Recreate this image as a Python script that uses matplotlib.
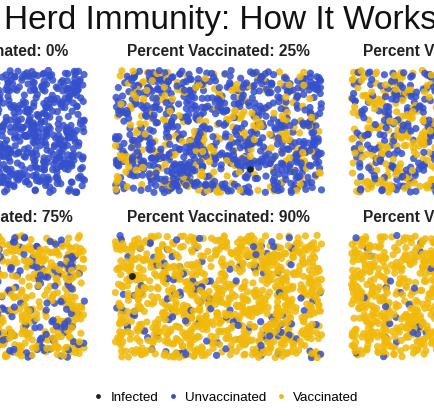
import numpy as np
import matplotlib.pyplot as plt
from matplotlib.lines import Line2D

# Facet values
percent_vaccinated = [0, 25, 50, 75, 90, 95]
n_people = 1000
n_infected = [1, 1, 1, 1, 1, 1]

# Legend
status_labels = ['Infected', 'Unvaccinated', 'Vaccinated']
status_colors = ['#222222', '#3550cc', '#f0b90b']

plt.rcParams['font.family'] = ['Liberation Sans', 'DejaVu Sans']

W, H = 434, 420
fig = plt.figure(figsize=(W / 100, H / 100), dpi=100)

# Panel layout in pixels (the picture is a crop of a wider figure)
col_left = [-125, 112, 348]
panel_w = 213
row_top = [67, 232]
panel_h = 129

# Individual positions in the simulation are random scatter: they cannot be
# read one by one, so a fixed seed stands in for them
rng = np.random.default_rng(7)

for k, pct in enumerate(percent_vaccinated):
    r, c = divmod(k, 3)
    x0, y0 = col_left[c], row_top[r]
    ax = fig.add_axes([x0 / W, 1 - (y0 + panel_h) / H, panel_w / W, panel_h / H])

    xs = rng.random(n_people)
    ys = rng.random(n_people)
    vacc = rng.random(n_people) < pct / 100
    colors = np.where(vacc, status_colors[2], status_colors[1])
    ax.scatter(xs, ys, s=27, c=colors, alpha=0.85, linewidths=0)

    inf = rng.choice(np.where(~vacc)[0], n_infected[k], replace=False)
    ax.scatter(xs[inf], ys[inf], s=22, c=status_colors[0], linewidths=0)

    ax.set_xlim(-0.016, 1.016)
    ax.set_ylim(-0.027, 1.027)
    ax.axis('off')

    fig.text((x0 + panel_w / 2) / W, 1 - (y0 - 15) / H,
             f'Percent Vaccinated: {pct}%', ha='center', va='center',
             fontsize=11.2, fontweight='bold', color='#222222')

fig.text(221 / W, 1 - 21 / H, 'Herd Immunity: How It Works',
         ha='center', va='center', fontsize=24, color='#111111')

handles = [Line2D([], [], marker='o', linestyle='', markersize=3.5,
                  markerfacecolor=col, markeredgewidth=0, label=lab)
           for lab, col in zip(status_labels, status_colors)]
fig.legend(handles=handles, loc='center', bbox_to_anchor=(225 / W, 1 - 398 / H),
           ncol=3, frameon=False, fontsize=9.6, handletextpad=0.4,
           columnspacing=0.6, handlelength=1.0)

fig.savefig('out.png', dpi=100)
